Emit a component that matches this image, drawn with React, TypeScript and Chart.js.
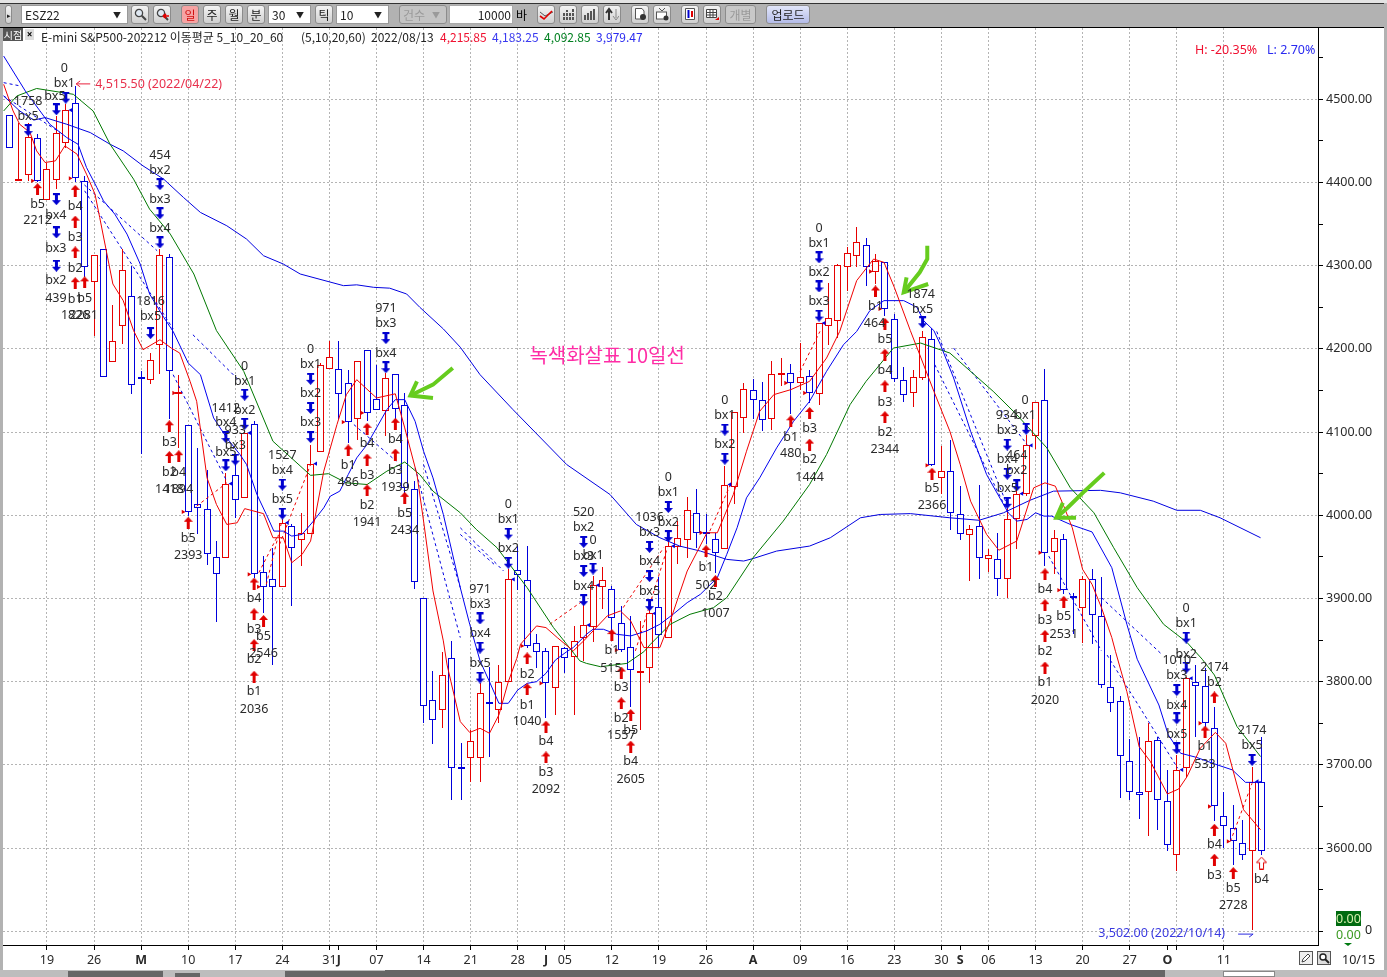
import { useEffect, useRef } from "react"
import { Chart, registerables } from "chart.js"

Chart.register(...registerables)

const FONT = '"Noto Sans", "Noto Sans CJK KR", sans-serif'
const KR_FONT = '"Noto Sans CJK KR", "Liberation Sans", sans-serif'

// Daily bars of ESZ22
const opens = [4481,4402,4409,4453,4379,4403,4448,4496,4402,4280,4320,4184,4227,4264,4166,4163,4205,4310,4146,4108,4013,4008,3950,3949,4048,4021,4110,3932,3923,3914,3987,3970,3978,4076,4176,4176,4159,4116,4199,4140,4125,4170,4133,4031,3900,3778,3766,3828,3697,3708,3708,3776,3766,3800,3934,3922,3846,3837,3792,3840,3830,3852,3866,3914,3911,3871,3842,3810,3816,3890,3852,3962,3970,4003,3980,3972,3959,4034,4117,4150,4138,4116,4169,4171,4159,4168,4146,4228,4233,4298,4312,4325,4293,4304,4236,4163,4147,4165,4212,4045,4053,4002,3976,3987,3947,3947,3924,3996,4026,4095,4138,3956,3972,3903,3889,3923,3879,3794,3777,3705,3668,3668,3730,3656,3592,3696,3800,3795,3744,3638,3624,3606,3596,3680]
const highs = [4481,4472,4472,4458,4424,4480,4494,4516,4408,4313,4320,4253,4320,4300,4174,4195,4320,4314,4169,4108,4081,4055,3969,4051,4073,4103,4113,3951,3961,3995,3990,4003,4085,4183,4210,4210,4175,4186,4199,4181,4171,4170,4147,4041,3900,3813,3836,3849,3726,3742,3798,3818,3820,3935,3963,3963,3857,3840,3843,3842,3867,3905,3927,3938,3915,3891,3879,3873,3897,3926,3970,3993,4022,4032,4002,3979,4059,4124,4159,4164,4160,4186,4189,4182,4207,4175,4231,4279,4302,4323,4347,4333,4314,4305,4242,4178,4175,4221,4225,4083,4090,4035,3988,4036,3959,3979,4009,4033,4097,4136,4176,3982,3977,3906,3927,3936,3926,3832,3783,3731,3733,3750,3734,3694,3712,3806,3820,3816,3770,3667,3652,3634,3698,3733]
const lows = [4442,4402,4402,4400,4379,4392,4442,4400,4286,4215,4166,4184,4206,4146,4074,4158,4170,4116,4081,3999,3978,3940,3872,3949,3997,4021,3925,3882,3820,3914,3891,3939,3978,4076,4176,4116,4087,4091,4113,4126,4095,4107,4025,3911,3750,3725,3744,3658,3658,3680,3680,3710,3750,3800,3910,3841,3817,3756,3760,3810,3760,3825,3848,3887,3859,3836,3769,3742,3798,3841,3852,3941,3949,3961,3965,3931,3959,4013,4099,4116,4101,4103,4155,4122,4150,4135,4133,4205,4213,4269,4298,4275,4278,4240,4160,4136,4130,4163,4059,4025,3982,3970,3921,3923,3932,3903,3900,3959,4023,4080,3939,3930,3905,3857,3847,3845,3792,3763,3660,3658,3635,3614,3622,3596,3572,3686,3734,3746,3632,3600,3580,3586,3502,3592]
const closes = [4442,4404,4455,4402,4416,4459,4487,4405,4298,4313,4166,4210,4295,4156,4164,4187,4313,4174,4148,4004,4009,3954,3930,4038,4018,4099,3929,3914,3914,3991,3961,3979,4062,4181,4190,4146,4112,4186,4123,4126,4165,4128,4033,3920,3771,3754,3808,3696,3695,3729,3786,3774,3800,3923,3928,3843,3836,3798,3843,3829,3849,3868,3916,3922,3877,3838,3814,3813,3882,3856,3963,3973,4006,3979,3978,3955,4037,4124,4152,4138,4114,4170,4171,4159,4166,4147,4231,4237,4301,4315,4328,4299,4306,4248,4164,4145,4166,4214,4060,4053,4003,3977,3984,3949,3952,3924,3996,4026,4084,4136,3955,3973,3910,3901,3923,3880,3796,3774,3711,3667,3664,3729,3658,3604,3694,3804,3795,3750,3650,3627,3608,3592,3680,3596]

// Moving averages: bar positions and the values read at them
const ma5Bars = [-0.6,0.4,1.1,2.2,2.9,3.8,4.9,5.9,7.2,8.2,9.1,9.6,11,12.1,13.2,14.2,16,17.2,18.1,19.2,19.9,21,22,23.1,24.2,25,27,28,29.1,30,31.1,32,33.4,34.8,35.8,36.9,39,41,42,43.3,44,45,46.1,46.5,47.9,48.9,50,51,52,53,53.9,54.3,56,57,58.2,59.9,61,62,63.5,64.9,66,67.4,69.1,70.2,72,74.1,75.2,76.9,78.3,79.7,81.2,83,85,86.8,88.2,90,91.1,91.8,92.9,94,95.7,96.7,98.2,99.9,101,102.1,103.8,105.1,107,108.8,110,111.1,112,112.9,114,115,116,117.1,117.5,118.7,120,121.2,123,124.2,125.1,126.5,128.1,129.2,131.1,132.9]
const ma5 = [4518,4486,4470,4460,4438,4424,4426,4444,4434,4410,4386,4358,4278,4258,4222,4199,4211,4201,4195,4161,4137,4045,4013,3989,3991,4008,4002,3973,3973,3943,3953,3969,4053,4109,4145,4163,4141,4146,4105,4049,3993,3909,3849,3820,3752,3739,3744,3738,3760,3800,3828,3845,3867,3865,3853,3837,3849,3861,3879,3885,3873,3841,3841,3873,3933,3979,3979,4025,4077,4125,4145,4151,4161,4189,4221,4282,4298,4308,4304,4274,4222,4193,4149,4101,4061,4017,3977,3958,3969,4033,4039,4035,4011,3985,3935,3917,3889,3853,3836,3788,3722,3704,3665,3671,3686,3720,3739,3726,3646,3622]
const ma10Bars = [-0.6,1.7,4.3,6.1,7.3,8.2,9.3,10,11.2,12.5,13.9,14.9,16.4,17.4,19,20.3,21.7,23.1,24.5,25.2,26.3,27.3,28.1,29.1,30,31.1,32.3,33.4,34.1,35.1,36,36.9,38,39,40.1,41,42,43.1,44,45,46.1,47,47.9,48.9,50,51,52,53,54,55,56,57,58,59.2,59.9,61.3,62,63.1,64.5,66,67.7,69.1,70.5,72,73.4,75.2,76.2,77.3,78.3,79.7,81.5,83.3,85,86.8,88.6,90,91.4,92.9,95,96.4,97.1,98.2,98.9,100.3,102.1,103.8,106.1,107,108.1,109,109.9,110.7,112.7,115,117.1,118.7,119.8,122.1,123.1,124.4,126.1,128.3,129.9,131.3,132.5,133]
const ma10 = [4552,4510,4470,4454,4446,4418,4394,4378,4362,4338,4302,4266,4238,4221,4183,4169,4117,4093,4073,4061,4025,4001,3981,3981,3975,3977,3993,4009,4023,4029,4049,4069,4085,4105,4127,4139,4139,4113,4077,4045,4001,3957,3913,3869,3825,3800,3774,3774,3790,3798,3800,3810,3826,3836,3841,3857,3863,3863,3857,3855,3861,3869,3881,3895,3905,3925,3953,3985,4021,4045,4081,4113,4137,4173,4205,4221,4246,4258,4258,4250,4234,4222,4205,4165,4101,4049,4003,3993,3995,4003,3999,3999,3989,3980,3937,3869,3827,3772,3736,3714,3709,3700,3694,3679,3679,3680]
const ma20Bars = [-0.6,0.8,2.9,6.8,8.9,10.7,13.2,14.9,17.1,19.6,22,24.9,28,32,33.9,35.8,38,40.1,42,43.6,45,47.9,49.6,51.8,55,57.8,60.6,61.3,62.8,65.6,67.4,68.1,70.2,72.3,74.8,76.2,79,82.2,85,86.8,89.3,91,93.9,96.8,99.9,104.5,107,110.2,112.7,115.2,117.3,119.8,122.6,125.1,126.7,128,130.4,132.9]
const ma20 = [4486,4504,4513,4506,4486,4446,4404,4368,4338,4290,4222,4173,4089,4048,4050,4039,4037,4053,4064,4049,4029,4003,3983,3961,3913,3865,3825,3822,3818,3822,3836,3845,3869,3881,3889,3901,3949,3993,4037,4073,4133,4161,4201,4207,4195,4149,4121,4081,4033,4003,3961,3913,3869,3847,3827,3808,3746,3710]
const ma60Bars = [-0.6,1.1,2.6,3.8,6.1,8.6,10.7,12.1,14.2,16.4,18.5,20.3,23.1,25.2,27,29.1,30.9,35.5,36.9,38.7,40.4,42.2,43.6,46.1,47.9,50,53.5,59.2,63.8,66.6,69.1,71.2,73.4,76.2,78,79,81.5,85,87.2,90.4,92.5,95.7,99.9,103,105.6,108.4,110.9,115.9,118,121.5,124,126.5,128.6,132.9]
const ma60 = [4504,4486,4475,4478,4470,4460,4446,4438,4420,4404,4382,4364,4348,4332,4312,4302,4290,4276,4277,4274,4273,4266,4250,4224,4202,4169,4127,4061,4025,3989,3973,3963,3957,3947,3945,3948,3957,3963,3973,3997,4001,4002,3997,3994,4003,4018,4029,4030,4027,4017,4006,4006,3997,3973]

// Dashed trend segments: [bar, price, bar, price]
const blueDashes = [
  [-0.6, 4520, 1.2, 4516], [-0.6, 4504, 5.4, 4460], [7.5, 4402, 15.7, 4318], [8, 4390, 17.4, 4224],
  [17.4, 4169, 23.1, 4041], [19.5, 4217, 24.5, 4161], [36.6, 4109, 41.1, 4065], [43.1, 4057, 47.9, 3853],
  [44, 4061, 47.9, 3913], [47.9, 3985, 52.5, 3933], [47.9, 3977, 51.5, 3941], [98.3, 4181, 106.1, 4003],
  [98.5, 4221, 106.1, 4009], [100.3, 4201, 108.1, 4085], [110.4, 3951, 116, 3837], [116, 3901, 122.3, 3834],
  [116.6, 3832, 124.1, 3696],
]
const redDashes = [
  [19.9, 4011, 23.1, 4039], [26.5, 3931, 28.4, 3973], [27.3, 3917, 28.9, 3991], [28.7, 3965, 32, 4061],
  [57.4, 3869, 60.9, 3897], [66.5, 3837, 69.9, 3961], [65.2, 3889, 69.5, 3961], [74.4, 3981, 76.6, 4037],
  [84, 4173, 86.1, 4221], [129.7, 3608, 132, 3678],
]

// Signal arrows: [bar, price]
const downArrows = [
  [6,4502],[5,4488],[5,4380],[5,4340],[5,4300],[2,4463],[16,4398],[16,4363],[16,4328],[15,4219],[23,4094],[23,4060],[24,4067],[25,4145],[25,4110],[29,4037],[29,4002],[32,4164],[32,4129],[32,4094],[40,4213],[40,4178],[50,3876],[50,3841],[50,3805],[53,3978],[53,3943],[61,3968],[61,3933],[61,3898],[62,3936],[68,3962],[68,3927],[68,3892],[70,4010],[70,3975],[76,4103],[76,4068],[86,4310],[86,4275],[86,4240],[97,4232],[106,4085],[106,4050],[106,4015],[107,4036],[108,4104],[125,3853],[125,3817],[124,3790],[124,3756],[124,3720],[132,3706],
]
const upArrows = [
  [3,4392],[7,4390],[7,4353],[7,4316],[7,4279],[8,4280],[17,4107],[17,4070],[18,4071],[19,3991],[26,3918],[26,3881],[26,3844],[26,3806],[27,3873],[36,4078],[38,4104],[38,4067],[38,4030],[41,4110],[41,4073],[42,4021],[55,3828],[55,3791],[57,3746],[57,3709],[64,3856],[65,3811],[65,3774],[66,3760],[66,3722],[74,3957],[75,3921],[83,4113],[85,4123],[85,4085],[93,4230],[93,4193],[93,4155],[93,4118],[92,4269],[98,4050],[110,3929],[110,3892],[110,3855],[110,3817],[112,3896],[127,3740],[128,3781],[128,3622],[128,3586],[130,3570],
]
const hollowArrows = [[133, 3582]]

// Small entry flags on the candles: [bar, price]
const redFlags = [[3,4402],[7,4405],[18,4147],[19,4004],[26,3929],[27,3914],[36,4112],[38,4123],[55,3843],[57,3798],[65,3838],[74,3979],[83,4159],[85,4147],[92,4293],[93,4248],[98,4060],[110,3955],[112,3910],[127,3750],[128,3650],[130,3608]]
const blueFlags = [[6,4487],[23,4038],[25,4099],[29,3991],[32,4062],[53,3923],[61,3868],[62,3916],[68,3882],[70,3963],[76,4037],[86,4231],[107,4026],[108,4084],[124,3694],[125,3804],[132,3680]]

// Hand drawn green arrows: polylines of [bar, price]
const greenStrokes = [
  [[47.1,4177],[45,4157],[42.6,4144]], [[43.3,4161],[42.6,4144],[45,4141]],
  [[97.5,4324],[97.5,4308],[96.7,4292],[95,4268]], [[95.3,4286],[95,4268],[97.6,4278]],
  [[116.3,4051],[114.2,4029],[112.4,4009],[111.2,3997]], [[111.9,4015],[111.2,3997],[113.3,3997]],
]

// Text beside the signals: [bar, price, text]
const signalLabels: [number, number, string][] = [
  [5.85,4537,"0"],[5.85,4519,"bx1"],[4.85,4504,"bx5"],[4.95,4361,"bx4"],[4.95,4321,"bx3"],[4.95,4282,"bx2"],[4.95,4261,"439"],
  [2,4498,"1758"],[2,4480,"bx5"],[3,4374,"b5"],[3,4354,"2212"],[7,4371,"b4"],[7,4334,"b3"],[7,4297,"b2"],[7,4260,"b1"],[7,4240,"1826"],
  [8,4261,"b5"],[7.9,4240,"2281"],[16,4432,"454"],[16,4415,"bx2"],[16,4380,"bx3"],[16,4345,"bx4"],[15,4257,"1816"],[15,4239,"bx5"],
  [17,4088,"b3"],[17,4051,"b2"],[17,4031,"1418"],[18,4052,"b4"],[18,4031,"1894"],[19,3972,"b5"],[19,3952,"2393"],
  [23,4129,"1412"],[23,4111,"bx4"],[23,4076,"bx5"],[24,4102,"933"],[24,4084,"bx3"],[25,4179,"0"],[25,4161,"bx1"],[25,4126,"bx2"],
  [26,3900,"b4"],[26,3863,"b3"],[26,3827,"b2"],[26,3788,"b1"],[26,3767,"2036"],[27,3854,"b5"],[27,3834,"2546"],
  [29,4072,"1527"],[29,4054,"bx4"],[29,4019,"bx5"],[32,4199,"0"],[32,4181,"bx1"],[32,4146,"bx2"],[32,4111,"bx3"],
  [36,4060,"b1"],[36,4039,"486"],[38,4086,"b4"],[38,4048,"b3"],[38,4012,"b2"],[38,3991,"1941"],[40,4249,"971"],[40,4231,"bx3"],[40,4195,"bx4"],
  [41,4091,"b4"],[41,4054,"b3"],[41,4034,"1939"],[42,4002,"b5"],[42,3982,"2434"],
  [50,3911,"971"],[50,3893,"bx3"],[50,3858,"bx4"],[50,3822,"bx5"],[53,4013,"0"],[53,3995,"bx1"],[53,3960,"bx2"],
  [55,3809,"b2"],[55,3772,"b1"],[55,3752,"1040"],[57,3728,"b4"],[57,3691,"b3"],[57,3670,"2092"],
  [61,4003,"520"],[61,3985,"bx2"],[61,3950,"bx3"],[61,3915,"bx4"],[62,3970,"0"],[62,3952,"bx1"],
  [64,3838,"b1"],[63.9,3816,"515"],[65,3793,"b3"],[65,3756,"b2"],[65,3735,"1557"],[66,3741,"b5"],[66,3704,"b4"],[66,3683,"2605"],
  [68,3997,"1036"],[68,3979,"bx3"],[68,3944,"bx4"],[68,3909,"bx5"],[70,4045,"0"],[70,4027,"bx1"],[70,3992,"bx2"],
  [74,3937,"b1"],[74,3916,"502"],[75,3902,"b2"],[75,3882,"1007"],[76,4138,"0"],[76,4120,"bx1"],[76,4085,"bx2"],
  [83,4094,"b1"],[83,4074,"480"],[85,4104,"b3"],[85,4067,"b2"],[85,4046,"1444"],
  [93,4211,"b5"],[93,4174,"b4"],[93,4136,"b3"],[93,4099,"b2"],[93,4079,"2344"],
  [86,4345,"0"],[86,4327,"bx1"],[86,4292,"bx2"],[86,4257,"bx3"],[92,4251,"b1"],[91.9,4230,"464"],[96.8,4266,"1874"],[97,4247,"bx5"],
  [98,4032,"b5"],[98,4012,"2366"],[105.9,4120,"934"],[106,4102,"bx3"],[106,4067,"bx4"],[106,4032,"bx5"],
  [107,4072,"464"],[107,4054,"bx2"],[107.9,4138,"0"],[107.9,4120,"bx1"],
  [110,3911,"b4"],[110,3874,"b3"],[110,3836,"b2"],[110,3799,"b1"],[110,3778,"2020"],[112,3878,"b5"],[112,3857,"2531"],
  [125,3888,"0"],[125,3870,"bx1"],[125,3833,"bx2"],[124,3825,"1010"],[124,3807,"bx3"],[124,3772,"bx4"],[124,3737,"bx5"],
  [127,3722,"b1"],[127,3701,"533"],[128,3817,"2174"],[128,3799,"b2"],[128,3604,"b4"],[128,3567,"b3"],
  [130,3552,"b5"],[130,3531,"2728"],[132,3741,"2174"],[132,3723,"bx5"],[133,3562,"b4"],
]

// X axis: bar index of each date tick
const tickBars = [4,9,14,19,24,29,34,35,39,44,49,54,57,59,64,69,74,79,84,89,94,99,101,104,109,114,119,123,124,129]
const tickLabels = ["19","26","M","10","17","24","31","J","07","14","21","28","J","05","12","19","26","A","09","16","23","30","S","06","13","20","27","O","","11"]
const monthBars = [14, 35, 57, 79, 101, 123]
const noGridBars = [35, 57, 101, 123]

const priceTicks = [3500,3550,3600,3650,3700,3750,3800,3850,3900,3950,4000,4050,4100,4150,4200,4250,4300,4350,4400,4450,4500,4550]

const RED = "#e60000"
const BLUE = "#0000dc"

function makeArrow(kind: "up" | "down" | "hollow") {
  const c = document.createElement("canvas")
  c.width = kind === "hollow" ? 11 : 9
  c.height = kind === "hollow" ? 13 : 12
  const g = c.getContext("2d")!
  g.beginPath()
  if (kind === "up") {
    g.moveTo(4.5, 0); g.lineTo(9, 5); g.lineTo(6, 5); g.lineTo(6, 12); g.lineTo(3, 12); g.lineTo(3, 5); g.lineTo(0, 5)
    g.closePath(); g.fillStyle = "#e00000"; g.fill()
  } else if (kind === "down") {
    g.moveTo(1, 0); g.lineTo(8, 0); g.lineTo(8, 2); g.lineTo(6, 2); g.lineTo(6, 7); g.lineTo(9, 7); g.lineTo(4.5, 12); g.lineTo(0, 7); g.lineTo(3, 7); g.lineTo(3, 2); g.lineTo(1, 2)
    g.closePath(); g.fillStyle = "#0000d0"; g.fill()
  } else {
    g.moveTo(5.5, 0.5); g.lineTo(10.5, 6); g.lineTo(7.5, 6); g.lineTo(7.5, 12.5); g.lineTo(3.5, 12.5); g.lineTo(3.5, 6); g.lineTo(0.5, 6)
    g.closePath(); g.fillStyle = "#fff"; g.fill(); g.strokeStyle = "#e00000"; g.lineWidth = 1; g.stroke()
  }
  return c
}

function toPoints(list: number[][]) {
  return list.map(([x, y]) => ({ x, y }))
}

function lineSet(bars: number[], values: number[], color: string, order: number) {
  return {
    type: "line" as const,
    data: bars.map((x, i) => ({ x, y: values[i] })),
    borderColor: color,
    borderWidth: 1,
    pointRadius: 0,
    tension: 0,
    order,
  }
}

function dashSet(seg: number[], color: string) {
  return {
    type: "line" as const,
    data: [{ x: seg[0], y: seg[1] }, { x: seg[2], y: seg[3] }],
    borderColor: color,
    borderWidth: 1,
    borderDash: [3, 3],
    pointRadius: 0,
    order: 4,
  }
}

// keeps candles on whole pixels like the original terminal does
const snapBars = {
  id: "snapBars",
  afterDatasetsUpdate(chart: any) {
    chart.data.datasets.forEach((ds: any, i: number) => {
      if (!ds.candlePart) return
      chart.getDatasetMeta(i).data.forEach((el: any) => {
        el.x = Math.floor(el.x) + 0.5
        el.width = ds.candlePart === "body" ? 7 : 1
        el.y = Math.round(el.y)
        el.base = Math.round(el.base)
        if (ds.candlePart === "body" && Math.abs(el.base - el.y) < 2) el.base = el.y + 2
      })
    })
  },
}

const chartTexts = {
  id: "chartTexts",
  afterDatasetsDraw(chart: any) {
    const { ctx, scales } = chart
    const { x, y } = scales
    ctx.save()
    ctx.textAlign = "center"
    ctx.textBaseline = "middle"
    ctx.font = `12.5px ${FONT}`
    ctx.fillStyle = "#2a2a2a"
    signalLabels.forEach(([bar, price, text]) => {
      ctx.fillText(text, x.getPixelForValue(bar), y.getPixelForValue(price))
    })

    // pink note in the middle
    ctx.font = `20px ${KR_FONT}`
    ctx.fillStyle = "#ff2da6"
    ctx.fillText("녹색화살표 10일선", x.getPixelForValue(63.5), y.getPixelForValue(4192))

    // highest price marker
    const hx = x.getPixelForValue(7)
    const hy = y.getPixelForValue(4515.5) - 3
    ctx.strokeStyle = "#e8203c"
    ctx.lineWidth = 1
    ctx.beginPath()
    ctx.moveTo(hx + 15, hy + 0.5)
    ctx.lineTo(hx + 1, hy + 0.5)
    ctx.moveTo(hx + 5, hy - 2.5)
    ctx.lineTo(hx + 1, hy + 0.5)
    ctx.lineTo(hx + 5, hy + 3.5)
    ctx.stroke()
    ctx.font = `12.5px ${FONT}`
    ctx.textAlign = "left"
    ctx.fillStyle = "#e8304c"
    ctx.fillText("4,515.50 (2022/04/22)", hx + 20, hy + 1)

    // lowest price marker
    const lx = x.getPixelForValue(132)
    const ly = y.getPixelForValue(3502) + 4
    ctx.strokeStyle = "#2a2ae0"
    ctx.beginPath()
    ctx.moveTo(lx - 14, ly + 0.5)
    ctx.lineTo(lx + 1, ly + 0.5)
    ctx.lineTo(lx - 3, ly + 3.5)
    ctx.stroke()
    ctx.textAlign = "right"
    ctx.fillStyle = "#3a3ae0"
    ctx.fillText("3,502.00 (2022/10/14)", lx - 27, ly)
    ctx.restore()
  },
}

function CandleChart() {
  const chartRef = useRef<HTMLCanvasElement>(null)

  useEffect(() => {
    if (!chartRef.current) return
    const colors = closes.map((c, i) => (c >= opens[i] ? RED : BLUE))

    const chart = new Chart(chartRef.current, {
      type: "bar",
      data: {
        datasets: [
          lineSet(ma5Bars, ma5, "#f00000", 2),
          lineSet(ma10Bars, ma10, "#0000f0", 2),
          lineSet(ma20Bars, ma20, "#007800", 3),
          lineSet(ma60Bars, ma60, "#0000e0", 3),
          ...blueDashes.map((s) => dashSet(s, "#0000e0")),
          ...redDashes.map((s) => dashSet(s, "#f00000")),
          ...greenStrokes.map((s) => ({
            type: "line" as const,
            data: toPoints(s),
            borderColor: "#66cc1e",
            borderWidth: 4,
            pointRadius: 0,
            order: 1,
          })),
          {
            type: "scatter" as const,
            data: toPoints(downArrows),
            pointStyle: makeArrow("down"),
            pointRadius: 5,
            order: 0,
          },
          {
            type: "scatter" as const,
            data: toPoints(upArrows),
            pointStyle: makeArrow("up"),
            pointRadius: 5,
            order: 0,
          },
          {
            type: "scatter" as const,
            data: toPoints(hollowArrows),
            pointStyle: makeArrow("hollow"),
            pointRadius: 5,
            order: 0,
          },
          {
            type: "scatter" as const,
            data: toPoints(redFlags.map(([b, p]) => [b - 0.55, p])),
            pointStyle: "triangle",
            rotation: 90,
            pointRadius: 2.5,
            backgroundColor: "#e00000",
            borderWidth: 0,
            order: 1,
          },
          {
            type: "scatter" as const,
            data: toPoints(blueFlags.map(([b, p]) => [b + 0.55, p])),
            pointStyle: "triangle",
            rotation: 270,
            pointRadius: 2.5,
            backgroundColor: "#0000e0",
            borderWidth: 0,
            order: 1,
          },
          {
            candlePart: "body",
            data: opens.map((o, i) => ({ x: i, y: [o, closes[i]] })),
            backgroundColor: "#fff",
            borderColor: colors,
            borderWidth: 1,
            borderSkipped: false,
            inflateAmount: 0,
            grouped: false,
            barPercentage: 1,
            categoryPercentage: 1,
            order: 5,
          },
          {
            candlePart: "wick",
            data: highs.map((h, i) => ({ x: i, y: [lows[i], h] })),
            backgroundColor: colors,
            borderWidth: 0,
            inflateAmount: 0,
            grouped: false,
            barPercentage: 1,
            categoryPercentage: 1,
            order: 6,
          },
        ] as any,
      },
      options: {
        responsive: false,
        animation: false,
        devicePixelRatio: 1,
        events: [],
        layout: { autoPadding: false, padding: { left: 3, top: 28, right: 0, bottom: 0 } },
        plugins: { legend: { display: false }, tooltip: { enabled: false } },
        scales: {
          x: {
            type: "linear",
            offset: false,
            min: -0.67,
            max: 139,
            afterBuildTicks: (axis: any) => {
              axis.ticks = tickBars.map((value) => ({ value }))
            },
            afterFit: (axis: any) => {
              axis.height = 32
            },
            border: { color: "#000", dash: [2, 2] },
            grid: {
              offset: false,
              color: (c: any) => (noGridBars.includes(c.tick?.value) ? "rgba(0,0,0,0)" : "#b4b4b4"),
              tickColor: "#000",
              tickLength: 5,
              tickBorderDash: [],
            },
            ticks: {
              autoSkip: false,
              maxRotation: 0,
              padding: 3,
              color: "#2a2a2a",
              font: (c: any) => ({
                family: FONT,
                size: 12.5,
                weight: monthBars.includes(c.tick?.value) ? "bold" : "normal",
              }),
              callback: (value: any) => tickLabels[tickBars.indexOf(value)] ?? "",
            },
          },
          y: {
            position: "right",
            min: 3483.5,
            max: 4585.7,
            afterBuildTicks: (axis: any) => {
              axis.ticks = priceTicks.map((value) => ({ value }))
            },
            afterFit: (axis: any) => {
              axis.width = 69
            },
            border: { color: "#000", dash: [2, 2] },
            grid: {
              color: (c: any) => (c.tick?.value % 100 === 0 ? "#b4b4b4" : "rgba(0,0,0,0)"),
              tickColor: "#000",
              tickLength: 5,
              tickBorderDash: [],
            },
            ticks: {
              autoSkip: false,
              padding: 3,
              color: "#2a2a2a",
              font: { family: FONT, size: 12.5 },
              callback: (value: any) => (value % 100 === 0 && value !== 3500 ? Number(value).toFixed(2) : ""),
            },
          },
        },
      } as any,
      plugins: [snapBars, chartTexts],
    })

    return () => chart.destroy()
  }, [])

  return <canvas ref={chartRef} width={1387} height={977} style={{ position: "absolute", left: 0, top: 0 }} />
}

// Terminal chrome around the chart
const boxBtn = (left: number, width: number, extra: any = {}) => ({
  position: "absolute" as const,
  left,
  top: 5,
  width,
  height: 19,
  boxSizing: "border-box" as const,
  border: "1px solid #8c8c8c",
  borderRadius: 3,
  background: "linear-gradient(#f4f4f4,#cfcfcf)",
  font: `12px ${KR_FONT}`,
  lineHeight: "17px",
  textAlign: "center" as const,
  color: "#222",
  ...extra,
})

const textButtons: [number, number, string, any?][] = [
  [181, 18, "일", { background: "#f6a3a3", color: "#d01010" }],
  [203, 18, "주"],
  [225, 18, "월"],
  [247, 18, "분"],
  [315, 18, "틱"],
  [725, 31, "개별", { color: "#9a9a9a", background: "#c8c8c8" }],
  [766, 44, "업로드", { background: "linear-gradient(#e2e6fa,#b4bce8)" }],
]
const inputs: [number, number, string, boolean][] = [
  [21, 107, "ESZ22", true],
  [268, 43, "30", true],
  [336, 53, "10", true],
]
const headerPieces: [number, string, string][] = [
  [41, "E-mini S&P500-202212 이동평균 5_10_20_60", "#222"],
  [301, "(5,10,20,60)", "#222"],
  [371, "2022/08/13", "#222"],
  [440, "4,215.85", "#f01030"],
  [492, "4,183.25", "#3a3af0"],
  [544, "4,092.85", "#008020"],
  [596, "3,979.47", "#2a2af0"],
]

// Little toolbar pictures, each in a 14x14 box
const lens = (
  <>
    <circle cx="6" cy="6" r="3.6" fill="#dfe8f2" stroke="#444" strokeWidth="1.3" />
    <path d="M8.8 8.8L13 13" stroke="#444" strokeWidth="2" />
  </>
)
const iconButtons: [number, any][] = [
  [131, lens],
  [153, <>{lens}<path d="M14 9H8M8 9l3-2M8 9l3 2" stroke="#e00000" strokeWidth="1.6" fill="none" /></>],
  [537, <><path d="M1 5L6 9L10 7L14 5" stroke="#555" fill="none" /><path d="M1 9L5 12L13 4" stroke="#e00000" strokeWidth="1.6" fill="none" /></>],
  [559, <path d="M3 13V6M6 13V3M9 13V5M12 13V2" stroke="#555" strokeWidth="2" strokeDasharray="3 1" fill="none" />],
  [581, <path d="M2 13V8M5 13V6M8 13V4M11 13V2" stroke="#555" strokeWidth="2" fill="none" />],
  [603, <><path d="M4 13V4M1 6L4 2L7 6" stroke="#333" strokeWidth="2" fill="none" /><path d="M11 2V11M8 9L11 13L14 9" stroke="#888" fill="none" /></>],
  [631, <><path d="M2.5 1.5H9L11 4V12H2.5Z" fill="#fff" stroke="#555" /><circle cx="10" cy="10" r="3" fill="#333" /></>],
  [653, <><rect x="1.5" y="5" width="10" height="7" fill="#fff" stroke="#555" /><path d="M4 1L7 4L10 1" stroke="#555" fill="none" /><circle cx="11" cy="11" r="2.5" fill="#333" /></>],
  [681, <><path d="M2.5 1.5H11.5V12.5H2.5Z" fill="#fff" stroke="#555" /><path d="M5.5 3V11" stroke="#0000d0" strokeWidth="2" /><path d="M9 4V10" stroke="#e00000" strokeWidth="2" /></>],
  [703, <><path d="M1.5 2.5H11.5V10.5H1.5ZM1.5 5.5H11.5M1.5 8H11.5M5 2.5V10.5M8 2.5V10.5" fill="#fff" stroke="#444" /><path d="M10 13H14V10Z" fill="#e00000" /></>],
]

function Chrome() {
  const abs = (s: any) => ({ position: "absolute" as const, ...s })
  const small = `12px ${KR_FONT}`
  const num = `12.5px ${FONT}`
  return (
    <>
      <div style={abs({ left: 0, top: 0, width: 1387, height: 3, background: "#e4e4e4" })} />
      <div style={abs({ left: 0, top: 3, width: 1384, height: 25, background: "#b2b2b2", borderTop: "1px solid #333", borderBottom: "1px solid #000", boxSizing: "border-box" })} />
      <div style={abs({ left: 0, top: 28, width: 3, height: 942, background: "#b2b2b2" })} />
      <div style={abs({ left: 1384, top: 3, width: 3, height: 967, background: "#b2b2b2" })} />
      <div style={boxBtn(5, 7)}>
        <span style={{ fontSize: 7, position: "relative", top: -2 }}>▸</span>
      </div>
      {inputs.map(([left, width, text, arrow]) => (
        <div key={left} style={boxBtn(left, width, { background: "#fff", textAlign: "left", paddingLeft: 3, border: "1px solid #999", borderRadius: 0 })}>
          {text}
          {arrow && <span style={{ position: "absolute", right: 6, top: 0, fontSize: 8 }}>▼</span>}
        </div>
      ))}
      {textButtons.map(([left, width, text, extra]) => (
        <div key={left} style={boxBtn(left, width, extra)}>{text}</div>
      ))}
      {iconButtons.map(([left, pic]) => (
        <div key={left} style={boxBtn(left, 18)}>
          <svg width="14" height="14" style={{ position: "absolute", left: 1, top: 1 }}>{pic}</svg>
        </div>
      ))}
      <div style={boxBtn(399, 48, { background: "#c4c4c4", color: "#9a9a9a", textAlign: "left", paddingLeft: 3 })}>
        건수<span style={{ position: "absolute", right: 6, top: 0, fontSize: 8 }}>▼</span>
      </div>
      <div style={boxBtn(449, 64, { background: "#fff", textAlign: "right", paddingRight: 1, border: "1px solid #aaa", borderRadius: 0 })}>10000</div>
      <div style={abs({ left: 516, top: 6, font: small })}>바</div>

      <div style={abs({ left: 3, top: 28, width: 20, height: 13, background: "#555", color: "#fff", font: `10px ${KR_FONT}`, lineHeight: "13px", textAlign: "center" })}>시점</div>
      <div style={abs({ left: 25, top: 29, width: 9, height: 11, background: "#ddd", color: "#000", font: `bold 10px ${FONT}`, lineHeight: "11px", textAlign: "center" })}>×</div>
      {headerPieces.map(([left, text, color]) => (
        <div key={left} style={abs({ left, top: 29, font: small, lineHeight: "16px", color, whiteSpace: "nowrap" })}>{text}</div>
      ))}
      <div style={abs({ left: 1195, top: 42, font: num, lineHeight: "16px", color: "#f01030" })}>H: -20.35%</div>
      <div style={abs({ left: 1267, top: 42, font: num, lineHeight: "16px", color: "#2a2af0" })}>L: 2.70%</div>

      <div style={abs({ left: 1336, top: 911, width: 25, height: 15, background: "#006a10", color: "#d8f0b0", font: num, lineHeight: "15px", textAlign: "center" })}>0.00</div>
      <div style={abs({ left: 1336, top: 927, width: 25, font: num, lineHeight: "16px", textAlign: "center", color: "#3a9a20" })}>0.00</div>
      <div style={abs({ left: 1344, top: 943, width: 0, height: 0, borderLeft: "4px solid transparent", borderRight: "4px solid transparent", borderTop: "3px solid #007a10" })} />
      <div style={abs({ left: 1365, top: 922, font: num, lineHeight: "16px", color: "#222" })}>0</div>
      <div style={abs({ left: 1299, top: 951, width: 14, height: 14, border: "1px solid #555", background: "#eee", boxSizing: "border-box" })}>
        <svg width="12" height="12" style={{ position: "absolute", left: 0, top: 0 }}><path d="M2 10L3 7L8 2L10 4L5 9Z" fill="#fff" stroke="#444" /></svg>
      </div>
      <div style={abs({ left: 1317, top: 951, width: 14, height: 14, border: "1px solid #555", background: "#ddd", boxSizing: "border-box" })}>
        <svg width="12" height="12" style={{ position: "absolute", left: 0, top: 0 }}><circle cx="5" cy="5" r="3" fill="#fff" stroke="#222" strokeWidth="1.4" /><path d="M7 7L11 11" stroke="#222" strokeWidth="2" /></svg>
      </div>
      <div style={abs({ left: 1342, top: 952, font: num, lineHeight: "16px", color: "#222" })}>10/15</div>

      <div style={abs({ left: 0, top: 970, width: 1387, height: 7, background: "#bdbdbd" })} />
      <div style={abs({ left: 68, top: 971, width: 95, height: 6, background: "#666" })} />
      <div style={abs({ left: 175, top: 973, width: 25, height: 4, background: "#666" })} />
      <div style={abs({ left: 285, top: 971, width: 100, height: 6, background: "#666" })} />
      <div style={abs({ left: 385, top: 970, width: 780, height: 7, background: "#666" })} />
      <div style={abs({ left: 1223, top: 971, width: 52, height: 6, background: "#fff", border: "1px solid #888", boxSizing: "border-box" })} />
    </>
  )
}

export default function App() {
  return (
    <div style={{ position: "absolute", left: 0, top: 0, width: 1387, height: 977, overflow: "hidden", background: "#fff" }}>
      <CandleChart />
      <Chrome />
    </div>
  )
}
